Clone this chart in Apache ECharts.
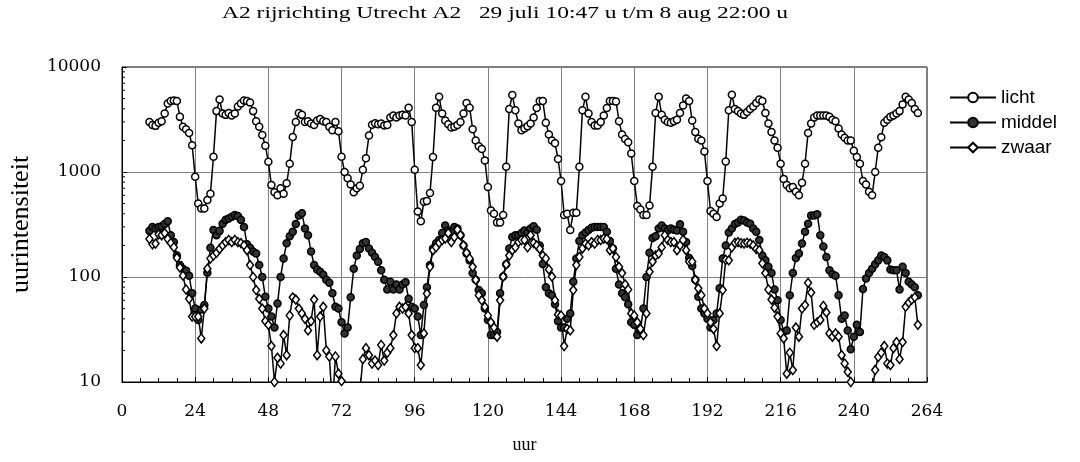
<!DOCTYPE html>
<html>
<head>
<meta charset="utf-8">
<script src="https://cdn.jsdelivr.net/npm/echarts@6/dist/echarts.min.js"></script>
<style>
html,body{margin:0;padding:0;background:#fff;}
#chart{width:1080px;height:462px;}
</style>
</head>
<body>
<div id="chart"></div>
<script>
// ---- data (hourly values, first value at hour 9) ----
const startHour = 9;
const titleText = 'A2 rijrichting Utrecht A2   29 juli 10:47 u t/m 8 aug 22:00 u';
const seriesNames = ['licht', 'middel', 'zwaar'];
const xTicks = [0, 24, 48, 72, 96, 120, 144, 168, 192, 216, 240, 264];
const yTicks = [10, 100, 1000, 10000];
const yMinorTicks = [20,30,40,50,60,70,80,90,200,300,400,500,600,700,800,900,2000,3000,4000,5000,6000,7000,8000,9000];

const licht = [
  3000,2800,2750,2950,3050,3600,4500,4750,4800,4750,3350,2700,2550,2350,1800,
  900,500,450,450,540,620,1400,3800,4900,3600,3500,3650,3450,3600,4200,4500,4800,4750,4600,3800,3050,2700,2250,1780,
  1250,750,640,600,700,620,780,1200,2150,3000,3650,3500,3000,3050,2900,2800,3100,3200,3050,3000,2700,2500,3000,2450,
  1400,1000,870,760,640,700,740,1050,1350,2230,2820,2920,2850,2900,2780,2800,3300,3450,3300,3450,3500,3450,4100,3000,
  1050,420,340,520,530,630,1390,4100,5200,3600,3100,2850,2650,2700,2800,3000,3600,4550,4100,2560,2000,1760,1660,1290,
  720,430,400,330,330,390,1120,3980,5400,3870,2900,2500,2600,2720,2900,3300,4080,4750,4750,2950,2280,2000,1880,1330,
  820,390,400,280,410,410,1120,3870,5200,3600,3000,2780,2780,3000,3450,4080,4750,4750,4700,3050,2280,2060,1920,1500,
  820,475,440,390,390,480,1120,3650,5200,3500,3150,3000,2950,3050,3150,3650,4300,5000,4750,3100,2400,2070,2000,1570,
  820,425,400,373,500,560,1260,3870,5450,3990,3800,3600,3500,3720,3990,4200,4550,4900,4750,3650,2900,2400,2000,1700,
  1200,860,750,700,720,650,600,790,1200,2350,2900,3300,3450,3450,3450,3450,3350,3150,3050,2600,2280,2120,2000,2000,
  1590,1390,1200,820,760,650,600,1000,1700,2140,2950,3150,3350,3450,3600,3800,4400,5200,4900,4550,3990,3650
];
const middel = [
  275,300,290,300,305,320,340,250,215,160,130,120,115,103,70,
  50,39,49,54,110,190,280,250,275,322,350,360,375,390,380,350,300,205,190,175,167,130,100,65,
  50,42,33,56,100,150,210,245,270,320,385,405,290,250,175,130,118,112,105,94,88,70,52,50,
  37,29,33,64,120,160,185,210,215,187,170,155,140,116,94,76,90,76,85,76,85,89,62,52,
  50,42,28,54,80,130,187,210,225,262,310,278,265,300,290,250,200,167,144,109,94,75,70,50,
  39,28,28,30,70,101,132,187,240,250,250,262,278,265,290,305,282,200,133,80,70,67,55,38,
  33,33,40,45,90,150,220,250,265,280,295,300,300,300,300,270,220,187,120,85,70,64,55,37,
  35,28,31,50,100,170,235,245,290,310,290,278,290,282,278,318,270,215,152,127,94,65,50,45,
  40,33,39,45,78,150,200,265,290,320,330,350,345,330,322,290,270,225,160,144,125,109,76,60,
  39,30,31,67,109,152,167,208,270,322,385,385,395,250,195,155,116,106,103,67,40,43,31,20.5,
  27,35,30,77,97,109,120,132,144,160,155,144,118,116,116,76,125,109,90,85,80,67
];
const zwaar = [
  230,205,208,255,250,262,230,211,192,152,123,103,76,62,42,
  42,42,26,50,120,150,160,170,185,200,215,225,215,225,215,210,200,180,130,100,75,62,50,38,
  35,22,10,17,15,28,18,43,64,61,50,45,40,31,38,61,18,42,52,20,17.5,6,17.5,12,
  10.2,7,5,4,4,5,8,16.5,21,18,15,16,14.5,22.5,16,19,21,28,45,52,50,52,45,28,
  21,21,14.5,29,69.5,125,180,192,211,225,233,262,215,240,282,250,200,170,150,125,94,67,60,52,
  43,37,33,27,60,101,132,160,180,192,215,225,225,192,250,211,200,185,160,150,118,101,60,44,
  43,22,32,31,75,130,155,187,208,200,215,208,225,225,233,230,180,187,155,125,109,85,76,45,
  43,37,32,28,45,112,140,160,167,192,250,225,215,215,180,200,225,180,140,140,94,78,67,50,
  45,37,32,22,45,75,146,144,192,211,215,210,208,212,208,200,185,180,135,109,76,61,51,42,
  29,26,12,19,13,33,27,50,54,88,71,35,37,39,53,46,29,27,29,27,18,15,12.5,10,
  7,5,4,4,5,6,8,13,17.3,19,22,15,14.5,21,24,16.5,24,52,57,61,64,35
];

// ---- helpers ----
function toPoints(arr){ return arr.map((v, i) => [startHour + i, v]); }
function stretchFactor(text, font, targetWidth){
  const ctx = document.createElement('canvas').getContext('2d');
  ctx.font = font;
  return targetWidth / ctx.measureText(text).width;
}
const serif = '"Liberation Serif", "Times New Roman", serif';
const labelSerif = '"DejaVu Serif", "Liberation Serif", serif';
const sans = '"Liberation Sans", Arial, sans-serif';
const titleFont = '17px ' + serif;

const chart = echarts.init(document.getElementById('chart'), null, {renderer: 'canvas'});

const lineBase = {
  type: 'line',
  symbolSize: 7,
  showAllSymbol: true,
  clip: true,
  animation: false,
  lineStyle: {color: '#000', width: 1.5},
  emphasis: {disabled: true}
};

chart.setOption({
  backgroundColor: '#fff',
  animation: false,
  graphic: [{
    type: 'text',
    x: 505, y: 14,
    scaleX: stretchFactor(titleText, titleFont, 566),
    style: {text: titleText, font: titleFont, fill: '#000', textAlign: 'center', textVerticalAlign: 'middle'}
  }],
  grid: {left: 119, right: 153, top: 67, bottom: 80, show: true, borderColor: '#000', borderWidth: 1, backgroundColor: '#fff'},
  legend: {
    orient: 'vertical', left: 944, top: 82,
    itemWidth: 46, itemHeight: 12, itemGap: 4,
    data: seriesNames,
    textStyle: {fontFamily: sans, fontSize: 19, color: '#000', lineHeight: 21},
    selectedMode: false
  },
  xAxis: {
    type: 'value', min: 0, max: 264, interval: 24,
    name: 'uur', nameLocation: 'middle', nameGap: 54,
    nameTextStyle: {fontFamily: serif, fontSize: 18, color: '#000'},
    axisLine: {lineStyle: {color: '#000', width: 1}},
    axisTick: {show: true, inside: true, length: 5, lineStyle: {color: '#000'}},
    minorTick: {show: true, splitNumber: 4, length: 4, lineStyle: {color: '#000'}},
    axisLabel: {fontFamily: labelSerif, fontSize: 17, color: '#000', margin: 21,
      formatter: v => (xTicks.indexOf(v) >= 0 ? String(v) : '')},
    splitLine: {show: true, lineStyle: {color: '#808080', width: 1}}
  },
  yAxis: {
    type: 'log', logBase: 10, min: 10, max: 10000,
    name: 'uurintensiteit', nameLocation: 'middle', nameGap: 88,
    nameTextStyle: {fontFamily: serif, fontSize: 26, color: '#000'},
    axisLine: {lineStyle: {color: '#000', width: 1}},
    axisTick: {show: true, inside: true, length: 5, lineStyle: {color: '#000'}},
    axisLabel: {fontFamily: labelSerif, fontSize: 17, color: '#000', margin: 21,
      formatter: v => String(Math.round(v))},
    splitLine: {show: true, lineStyle: {color: '#808080', width: 1}}
  },
  series: [
    Object.assign({}, lineBase, {
      name: seriesNames[0], data: toPoints(licht), symbol: 'circle',
      itemStyle: {color: '#fff', borderColor: '#000', borderWidth: 1.5}
    }),
    Object.assign({}, lineBase, {
      name: seriesNames[1], data: toPoints(middel), symbol: 'circle',
      itemStyle: {color: '#333', borderColor: '#000', borderWidth: 1.5}
    }),
    Object.assign({}, lineBase, {
      name: seriesNames[2], data: toPoints(zwaar), symbol: 'diamond', symbolSize: [7, 9],
      itemStyle: {color: '#fff', borderColor: '#000', borderWidth: 1.5}
    }),
    {
      type: 'custom', name: 'yMinor', silent: true, clip: false, animation: false,
      data: yMinorTicks.map(v => [0, v]),
      renderItem: function(params, api){
        const p = api.coord([api.value(0), api.value(1)]);
        return {type: 'line', shape: {x1: p[0], y1: p[1], x2: p[0] + 3, y2: p[1]},
          style: {stroke: '#000', lineWidth: 1}};
      }
    }
  ]
});
</script>
</body>
</html>
